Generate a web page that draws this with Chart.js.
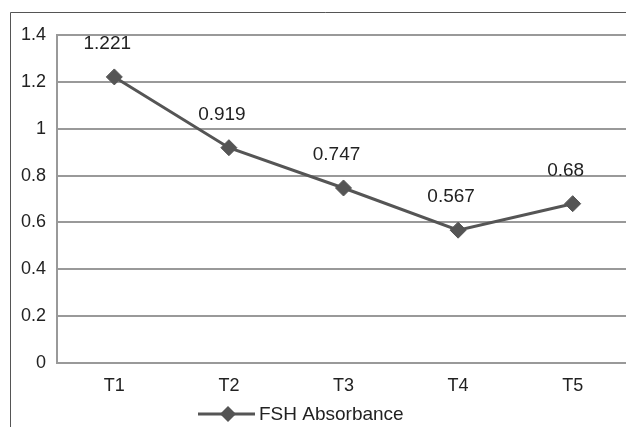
<!DOCTYPE html>
<html>
<head>
<meta charset="utf-8">
<script src="https://cdn.jsdelivr.net/npm/chart.js@4"></script>
<style>
  html, body { margin: 0; padding: 0; background: #fff; overflow: hidden; }
  #wrap { width: 640px; height: 427px; }
</style>
</head>
<body>
<div id="wrap"><canvas id="myChart1" width="640" height="427"></canvas></div>
<script>
// data
const categories = ["T1", "T2", "T3", "T4", "T5"];
const absorbance = [1.221, 0.919, 0.747, 0.567, 0.68];
const labelsText = ["1.221", "0.919", "0.747", "0.567", "0.68"];
const yTicks = [0, 0.2, 0.4, 0.6, 0.8, 1, 1.2, 1.4];
const seriesName = "FSH Absorbance";

const lineColor = "#555555";
const font = "19px 'Liberation Sans', Arial, sans-serif";

// outer frame + labels + legend
const extras = {
    id: "extras",
    beforeDraw(chart) {
        const c = chart.ctx;
        c.save();
        c.fillStyle = "#fff";
        c.fillRect(0, 0, chart.width, chart.height);
        c.strokeStyle = "#555";
        c.lineWidth = 1;
        c.beginPath();
        c.moveTo(10.5, chart.height);
        c.lineTo(10.5, 12.5);
        c.lineTo(chart.width, 12.5);
        c.stroke();
        c.restore();
    },
    afterDatasetsDraw(chart) {
        const c = chart.ctx;
        const meta = chart.getDatasetMeta(0);
        c.save();
        c.font = font;
        c.fillStyle = "#222";
        c.textAlign = "center";
        c.textBaseline = "middle";
        meta.data.forEach(function(p, i) {
            c.fillText(labelsText[i], p.x - 7, p.y - 33);
        });
        c.restore();
    },
    afterDraw(chart) {
        const c = chart.ctx;
        const y = 414;
        c.save();
        c.strokeStyle = lineColor;
        c.lineWidth = 3;
        c.beginPath();
        c.moveTo(198, y);
        c.lineTo(255, y);
        c.stroke();
        c.fillStyle = lineColor;
        c.beginPath();
        c.moveTo(228 - 8, y);
        c.lineTo(228, y - 8);
        c.lineTo(228 + 8, y);
        c.lineTo(228, y + 8);
        c.closePath();
        c.fill();
        c.font = font;
        c.fillStyle = "#222";
        c.textBaseline = "middle";
        c.fillText(seriesName, 259, y + 1);
        c.restore();
    }
};

window.onload = function(){
    const ctx = document.getElementById("myChart1").getContext("2d");
    new Chart(ctx, {
        type: "line",
        data: {
            labels: categories,
            datasets: [
                {
                    label: seriesName,
                    data: absorbance,
                    borderColor: lineColor,
                    backgroundColor: lineColor,
                    borderWidth: 3,
                    pointStyle: "rectRot",
                    pointRadius: 8,
                    pointBorderWidth: 1,
                    tension: 0,
                },
            ],
        },
        options: {
            responsive: false,
            animation: false,
            layout: { padding: { top: 35, right: 10, left: 0, bottom: 0 } },
            plugins: {
                legend: { display: false },
                tooltip: { enabled: false },
            },
            scales: {
                x: {
                    offset: true,
                    grid: { display: false, offset: true },
                    border: { color: "#999", width: 2 },
                    ticks: { color: "#222", font: { family: "'Liberation Sans', Arial", size: 18 }, padding: 4, maxRotation: 0 },
                    afterFit(scale) { scale.height = 64; },
                },
                y: {
                    min: 0,
                    max: 1.4,
                    afterBuildTicks(scale) { scale.ticks = yTicks.map(v => ({ value: v })); },
                    grid: { color: "#999", lineWidth: 2, drawTicks: false },
                    border: { color: "#999", width: 2 },
                    ticks: {
                        color: "#222",
                        font: { family: "'Liberation Sans', Arial", size: 18 },
                        padding: 11,
                        callback: v => String(Math.round(v * 10) / 10),
                    },
                    afterFit(scale) { scale.width = 57; },
                },
            },
        },
        plugins: [extras],
    });
};
</script>
</body>
</html>
